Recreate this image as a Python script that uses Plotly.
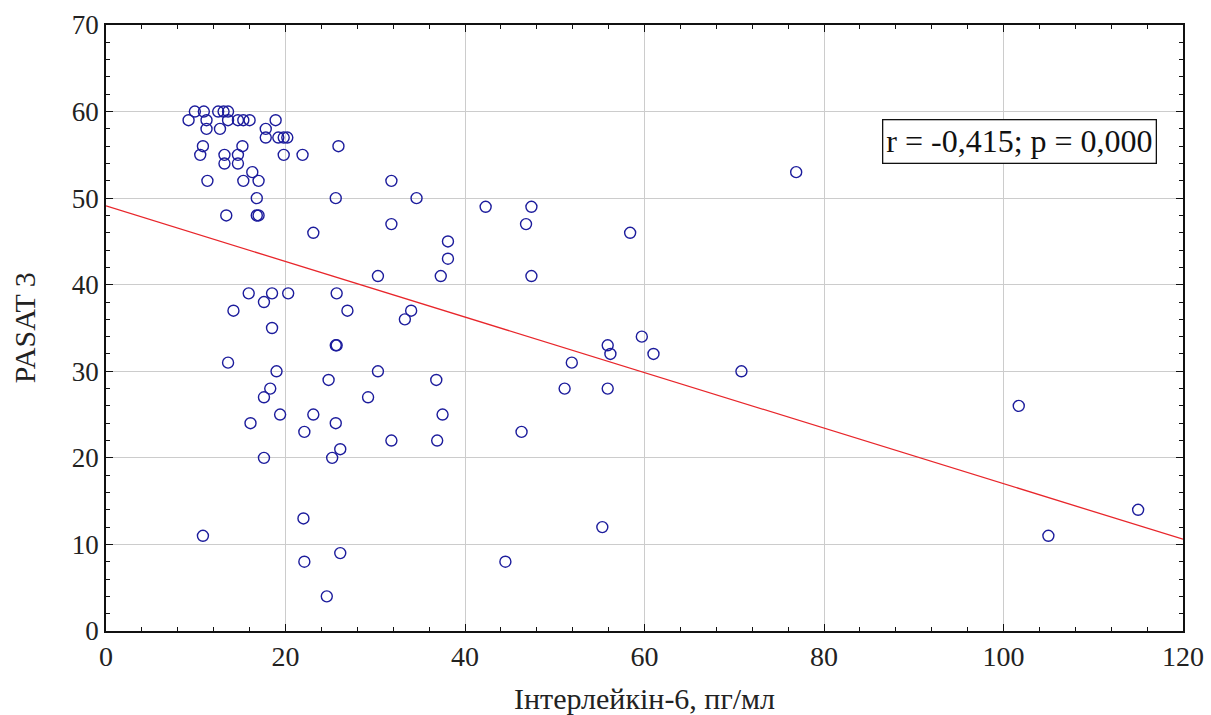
import plotly.graph_objects as go

# IL-6 (pg/ml) vs PASAT 3
il6 = [9.9, 10.9, 12.5, 13.1, 13.6,
       9.2, 11.2, 13.6, 14.7, 15.3, 16.0, 18.9,
       11.2, 12.7, 17.8,
       17.8, 19.2, 19.8, 20.2,
       10.8, 15.2, 25.9,
       10.5, 13.2, 14.7, 19.8, 21.9,
       13.2, 14.7,
       16.3,
       11.3, 15.3, 17.0, 31.8,
       16.8, 25.6, 34.6,
       42.3, 47.4,
       13.4, 16.8, 17.0, 31.8, 46.8,
       23.1, 58.4,
       38.1, 38.1,
       30.3, 37.3, 47.4,
       15.9, 18.5, 20.3, 25.7,
       17.6,
       14.2, 26.9, 34.0,
       33.3,
       18.5,
       25.6, 25.7, 55.9, 59.7,
       56.2, 61.0,
       13.6, 51.9,
       19.0, 30.3, 70.8,
       24.8, 36.8,
       18.3, 51.1, 55.9,
       17.6, 29.2,
       19.4, 23.1, 37.5,
       16.1, 25.6,
       22.1, 46.3,
       31.8, 36.9,
       26.1,
       17.6, 25.2,
       22.0,
       10.8, 55.3,
       26.1,
       22.1, 44.5,
       24.6,
       76.9, 101.7, 105.0, 115.0]
pasat = [60, 60, 60, 60, 60,
         59, 59, 59, 59, 59, 59, 59,
         58, 58, 58,
         57, 57, 57, 57,
         56, 56, 56,
         55, 55, 55, 55, 55,
         54, 54,
         53,
         52, 52, 52, 52,
         50, 50, 50,
         49, 49,
         48, 48, 48, 47, 47,
         46, 46,
         45, 43,
         41, 41, 41,
         39, 39, 39, 39,
         38,
         37, 37, 37,
         36,
         35,
         33, 33, 33, 34,
         32, 32,
         31, 31,
         30, 30, 30,
         29, 29,
         28, 28, 28,
         27, 27,
         25, 25, 25,
         24, 24,
         23, 23,
         22, 22,
         21,
         20, 20,
         13,
         11, 12,
         9,
         8, 8,
         4,
         53, 26, 11, 14]

fit_x = [0, 120]
fit_y = [49.1, 10.6]

annot_text = "r = -0,415; p = 0,000"
x_title = "Інтерлейкін-6, пг/мл"
y_title = "PASAT 3"

font_family = "Liberation Serif, Times New Roman, serif"

fig = go.Figure()
fig.add_trace(go.Scatter(
    x=fit_x, y=fit_y, mode="lines",
    line=dict(color="#e8262b", width=1.3),
    hoverinfo="skip", showlegend=False))
fig.add_trace(go.Scatter(
    x=il6, y=pasat, mode="markers",
    marker=dict(symbol="circle-open", size=11, color="#1c1c9c",
                line=dict(width=1.4, color="#1c1c9c")),
    showlegend=False))

fig.add_annotation(
    x=101.8, y=56.6, xref="x", yref="y",
    text=annot_text, showarrow=False,
    font=dict(family=font_family, size=32, color="#111"),
    bordercolor="#111", borderwidth=1.3, borderpad=3,
    bgcolor="white")

# axis titles
fig.add_annotation(
    x=0.5, y=-0.112, xref="paper", yref="paper",
    xanchor="center", yanchor="middle",
    text=x_title, showarrow=False,
    font=dict(family=font_family, size=30, color="#222"))
fig.add_annotation(
    x=-0.076, y=0.5, xref="paper", yref="paper",
    xanchor="center", yanchor="middle", textangle=-90,
    text=y_title, showarrow=False,
    font=dict(family=font_family, size=30, color="#222"))

axis_common = dict(
    showline=True, linecolor="#111", linewidth=1.5, mirror="ticks",
    showgrid=True, gridcolor="#cccccc", gridwidth=1,
    ticks="inside", ticklen=7, tickcolor="#111", tickwidth=1,
    zeroline=False, automargin=False,
)

fig.update_xaxes(range=[0, 120], dtick=20, tick0=0,
                 tickfont=dict(family=font_family, size=28, color="#222"),
                 minor=dict(dtick=4, ticks="inside", ticklen=4, tickcolor="#111", showgrid=False),
                 **axis_common)
fig.update_yaxes(range=[0, 70], dtick=10, tick0=0,
                 tickfont=dict(family=font_family, size=27, color="#222"),
                 minor=dict(dtick=2, ticks="inside", ticklen=4, tickcolor="#111", showgrid=False),
                 **axis_common)

fig.update_layout(
    width=1211, height=715,
    margin=dict(l=106, r=28, t=25, b=84, autoexpand=False),
    plot_bgcolor="white", paper_bgcolor="white",
)

fig.write_html("out.html")
